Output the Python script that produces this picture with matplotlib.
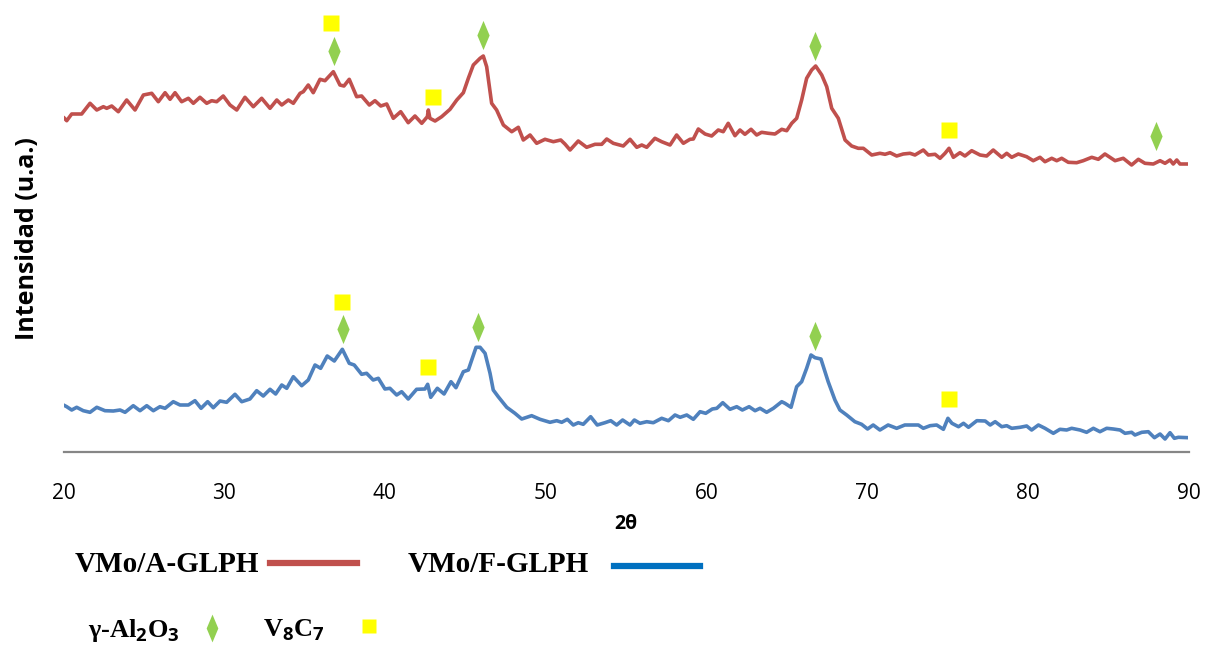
import matplotlib
matplotlib.use("Agg")
import matplotlib.pyplot as plt
from matplotlib.path import Path
from matplotlib.lines import Line2D

# ---------------- data ----------------
two_theta_A = [20.0, 20.2, 20.51, 20.82, 21.13, 21.65, 22.07, 22.48, 22.69, 23.0, 23.41, 23.93, 24.45, 24.97,
               25.49, 25.9, 26.32, 26.63, 26.94, 27.35, 27.77, 28.08, 28.49, 28.91, 29.22, 29.53, 29.94, 30.36,
               30.78, 31.29, 31.81, 32.33, 32.85, 33.27, 33.58, 33.99, 34.3, 34.72, 34.92, 35.23, 35.54, 35.96,
               36.27, 36.79, 37.2, 37.45, 37.78, 38.24, 38.55, 39.03, 39.38, 39.74, 40.11, 40.52, 40.98, 41.45,
               41.87, 42.29, 42.64, 42.7, 42.8, 43.12, 43.53, 44.05, 44.47, 44.88, 45.19, 45.5, 45.92, 46.12,
               46.33, 46.64, 46.95, 47.37, 47.89, 48.3, 48.61, 49.03, 49.44, 49.96, 50.48, 50.94, 51.2, 51.52,
               52.03, 52.55, 53.07, 53.49, 53.8, 54.21, 54.83, 55.25, 55.67, 55.98, 56.29, 56.8, 57.22, 57.74,
               58.15, 58.57, 58.98, 59.19, 59.5, 59.92, 60.33, 60.74, 61.05, 61.36, 61.78, 62.09, 62.4, 62.78,
               63.13, 63.44, 63.86, 64.27, 64.69, 65.0, 65.31, 65.62, 65.93, 66.24, 66.55, 66.8, 67.18, 67.49,
               67.8, 68.21, 68.63, 69.04, 69.45, 69.77, 70.29, 70.8, 71.12, 71.43, 71.84, 72.25, 72.67, 72.98,
               73.5, 73.81, 74.23, 74.54, 74.85, 75.1, 75.37, 75.78, 76.09, 76.51, 77.03, 77.44, 77.85, 78.38,
               78.69, 79.0, 79.41, 79.93, 80.34, 80.76, 81.07, 81.49, 81.8, 82.11, 82.52, 83.04, 83.45, 83.98,
               84.39, 84.8, 85.43, 85.94, 86.46, 86.88, 87.29, 87.81, 88.23, 88.54, 88.85, 89.05, 89.27, 89.47,
               90.0]
intensity_A = [3347, 3313, 3380, 3380, 3380, 3487, 3420, 3453, 3437, 3460, 3403, 3520, 3420, 3570,
               3587, 3503, 3593, 3527, 3593, 3503, 3537, 3487, 3547, 3487, 3513, 3503, 3560, 3470,
               3420, 3547, 3453, 3537, 3437, 3520, 3470, 3520, 3487, 3587, 3603, 3670, 3593, 3727,
               3713, 3803, 3670, 3660, 3727, 3553, 3560, 3470, 3513, 3460, 3480, 3337, 3403, 3293,
               3360, 3287, 3353, 3420, 3337, 3310, 3353, 3427, 3520, 3593, 3737, 3870, 3937, 3960,
               3853, 3487, 3420, 3270, 3203, 3247, 3120, 3170, 3087, 3127, 3103, 3120, 3080, 3020,
               3110, 3047, 3077, 3077, 3130, 3087, 3060, 3127, 3047, 3070, 3047, 3137, 3103, 3070,
               3170, 3087, 3127, 3130, 3230, 3180, 3160, 3220, 3203, 3287, 3163, 3220, 3177, 3227,
               3170, 3197, 3187, 3180, 3227, 3213, 3287, 3337, 3520, 3737, 3820, 3860, 3770, 3653,
               3437, 3337, 3120, 3060, 3037, 3037, 2970, 2987, 2977, 2993, 2960, 2980, 2987, 2970,
               3020, 2970, 2977, 2937, 2987, 3037, 2947, 2993, 2960, 3013, 2970, 2960, 3020, 2947,
               2987, 2947, 2980, 2953, 2913, 2947, 2903, 2937, 2913, 2937, 2897, 2893, 2913, 2947,
               2927, 2980, 2913, 2937, 2870, 2927, 2887, 2880, 2913, 2887, 2920, 2880, 2920, 2880,
               2880]

two_theta_F = [20.0, 20.2, 20.51, 20.82, 21.23, 21.65, 22.07, 22.58, 23.1, 23.52, 23.83, 24.34, 24.76, 25.18,
               25.59, 26.0, 26.32, 26.83, 27.25, 27.77, 28.18, 28.56, 28.97, 29.32, 29.74, 30.15, 30.67, 31.09,
               31.6, 32.02, 32.43, 32.85, 33.2, 33.58, 33.89, 34.3, 34.82, 35.23, 35.65, 36.0, 36.41, 36.85,
               37.35, 37.78, 38.09, 38.55, 38.86, 39.27, 39.59, 40.0, 40.31, 40.73, 41.04, 41.45, 41.97, 42.49,
               42.66, 42.85, 43.26, 43.68, 44.11, 44.42, 44.88, 45.19, 45.67, 45.92, 46.23, 46.54, 46.74, 47.05,
               47.58, 48.09, 48.51, 49.13, 49.65, 50.27, 50.69, 51.0, 51.35, 51.72, 52.03, 52.34, 52.8, 53.21,
               53.69, 54.05, 54.42, 54.79, 55.25, 55.52, 55.87, 56.29, 56.7, 57.22, 57.64, 58.05, 58.37, 58.78,
               59.19, 59.61, 59.96, 60.37, 60.65, 61.02, 61.47, 61.89, 62.24, 62.66, 63.03, 63.34, 63.75, 64.17,
               64.69, 64.89, 65.27, 65.62, 65.93, 66.24, 66.51, 66.76, 67.13, 67.58, 68.0, 68.31, 68.73, 69.24,
               69.66, 70.03, 70.38, 70.8, 71.31, 71.84, 72.35, 72.98, 73.19, 73.5, 73.92, 74.33, 74.75, 75.03,
               75.28, 75.69, 76.0, 76.31, 76.83, 77.35, 77.66, 77.97, 78.38, 78.69, 79.0, 79.52, 79.93, 80.24,
               80.66, 81.07, 81.59, 82.0, 82.42, 82.73, 83.25, 83.66, 84.08, 84.49, 84.91, 85.32, 85.74, 86.05,
               86.46, 86.67, 87.09, 87.5, 87.88, 88.23, 88.54, 88.85, 89.12, 89.37, 90.0]
intensity_F = [470, 453, 420, 447, 413, 397, 447, 413, 410, 420, 397, 463, 413, 463,
               413, 453, 437, 503, 470, 470, 513, 437, 503, 443, 510, 497, 577, 503,
               530, 613, 560, 627, 580, 670, 637, 753, 663, 720, 870, 837, 960, 910,
               1027, 887, 870, 777, 787, 720, 737, 630, 637, 570, 603, 530, 627, 630,
               677, 547, 637, 580, 703, 643, 803, 820, 1047, 1047, 987, 787, 620, 553,
               447, 387, 330, 363, 327, 297, 313, 297, 327, 270, 293, 277, 353, 270,
               293, 313, 270, 320, 270, 320, 287, 303, 293, 337, 313, 370, 347, 370,
               327, 403, 387, 430, 437, 493, 427, 453, 420, 453, 413, 437, 397, 437,
               503, 487, 447, 653, 703, 837, 970, 943, 930, 703, 520, 420, 370, 303,
               277, 230, 270, 220, 270, 237, 270, 270, 270, 237, 263, 270, 227, 337,
               287, 253, 287, 247, 313, 310, 270, 303, 253, 263, 237, 247, 260, 220,
               270, 237, 187, 227, 220, 237, 220, 197, 237, 203, 237, 230, 220, 187,
               197, 170, 197, 203, 143, 180, 130, 193, 137, 147, 143]

# phase markers
gamma_x = [36.83, 46.08, 66.76, 87.98, 37.37, 45.77, 66.76]
gamma_y = [4010, 4170, 4060, 3160, 1233, 1253, 1160]
v8c7_x = [36.64, 43.01, 75.10, 37.31, 42.66, 75.10]
v8c7_y = [4290, 3550, 3220, 1500, 850, 530]

x_ticks = [20, 30, 40, 50, 60, 70, 80, 90]
series_labels = ["VMo/A-GLPH", "VMo/F-GLPH"]
phase_labels = ["γ-Al$_2$O$_3$", "V$_8$C$_7$"]

# ---------------- style ----------------
plt.rcParams["mathtext.fontset"] = "custom"
plt.rcParams["mathtext.rm"] = "Open Sans:bold"
plt.rcParams["mathtext.it"] = "Open Sans:bold"
plt.rcParams["mathtext.bf"] = "Open Sans:bold"
plt.rcParams["mathtext.default"] = "rm"

RED = "#C0504D"
BLUE = "#4F81BD"
BLUE_LEG = "#0070C0"
GREEN = "#92D050"
YELLOW = "#FFFF00"

W, H = 1208, 646
fig = plt.figure(figsize=(W / 100, H / 100), dpi=100)
ax = fig.add_axes([63.5 / W, 1 - 452 / H, (1188.5 - 63.5) / W, (452 - 12) / H])

ax.plot(two_theta_A, intensity_A, color=RED, lw=2.6, solid_joinstyle="round", solid_capstyle="round")
ax.plot(two_theta_F, intensity_F, color=BLUE, lw=2.6, solid_joinstyle="round", solid_capstyle="round")

diamond = Path([(0, 1), (0.42, 0), (0, -1), (-0.42, 0), (0, 1)],
               [Path.MOVETO, Path.LINETO, Path.LINETO, Path.LINETO, Path.CLOSEPOLY])
ax.plot(gamma_x, gamma_y, ls="none", marker=diamond, ms=21, mfc=GREEN, mec="none")
ax.plot(v8c7_x, v8c7_y, ls="none", marker="s", ms=11.5, mfc=YELLOW, mec="none")

ax.set_xlim(20, 90)
ax.set_ylim(0, 4400)
ax.set_xticks(x_ticks)
ax.set_yticks([])
for s in ["top", "right", "left"]:
    ax.spines[s].set_visible(False)
ax.spines["bottom"].set_color("#868686")
ax.spines["bottom"].set_linewidth(1.6)
ax.tick_params(axis="x", length=0, pad=22, labelsize=15)
for lab in ax.get_xticklabels():
    lab.set_family("Open Sans")

fig.text(626 / W, 1 - 524 / H, "2θ", ha="center", va="center", fontsize=14,
         fontweight="bold", family="Open Sans")
fig.text(28 / W, 1 - 239 / H, "Intensidad (u.a.)", ha="center", va="center", rotation=90,
         fontsize=18, fontweight="bold", family="Open Sans")

# custom legend
serif = ["Liberation Serif", "DejaVu Serif"]
fig.text(75 / W, 1 - 564 / H, series_labels[0], ha="left", va="center", fontsize=21,
         fontweight="bold", family=serif)
fig.add_artist(Line2D([270 / W, 357 / W], [1 - 563 / H, 1 - 563 / H], color=RED, lw=4.5,
                      transform=fig.transFigure))
fig.text(408 / W, 1 - 564 / H, series_labels[1], ha="left", va="center", fontsize=21,
         fontweight="bold", family=serif)
fig.add_artist(Line2D([614 / W, 700 / W], [1 - 566 / H, 1 - 566 / H], color=BLUE_LEG, lw=4.5,
                      transform=fig.transFigure))

fig.text(88 / W, 1 - 630 / H, phase_labels[0], ha="left", va="center", fontsize=19,
         fontweight="bold", family=serif)
fig.add_artist(Line2D([212 / W], [1 - 628 / H], ls="none", marker=diamond, ms=20,
                      mfc=GREEN, mec="none", transform=fig.transFigure))
fig.text(263 / W, 1 - 630 / H, phase_labels[1], ha="left", va="center", fontsize=19,
         fontweight="bold", family=serif)
fig.add_artist(Line2D([369 / W], [1 - 626 / H], ls="none", marker="s", ms=10.5,
                      mfc=YELLOW, mec="none", transform=fig.transFigure))

fig.savefig("out.png", dpi=100)
